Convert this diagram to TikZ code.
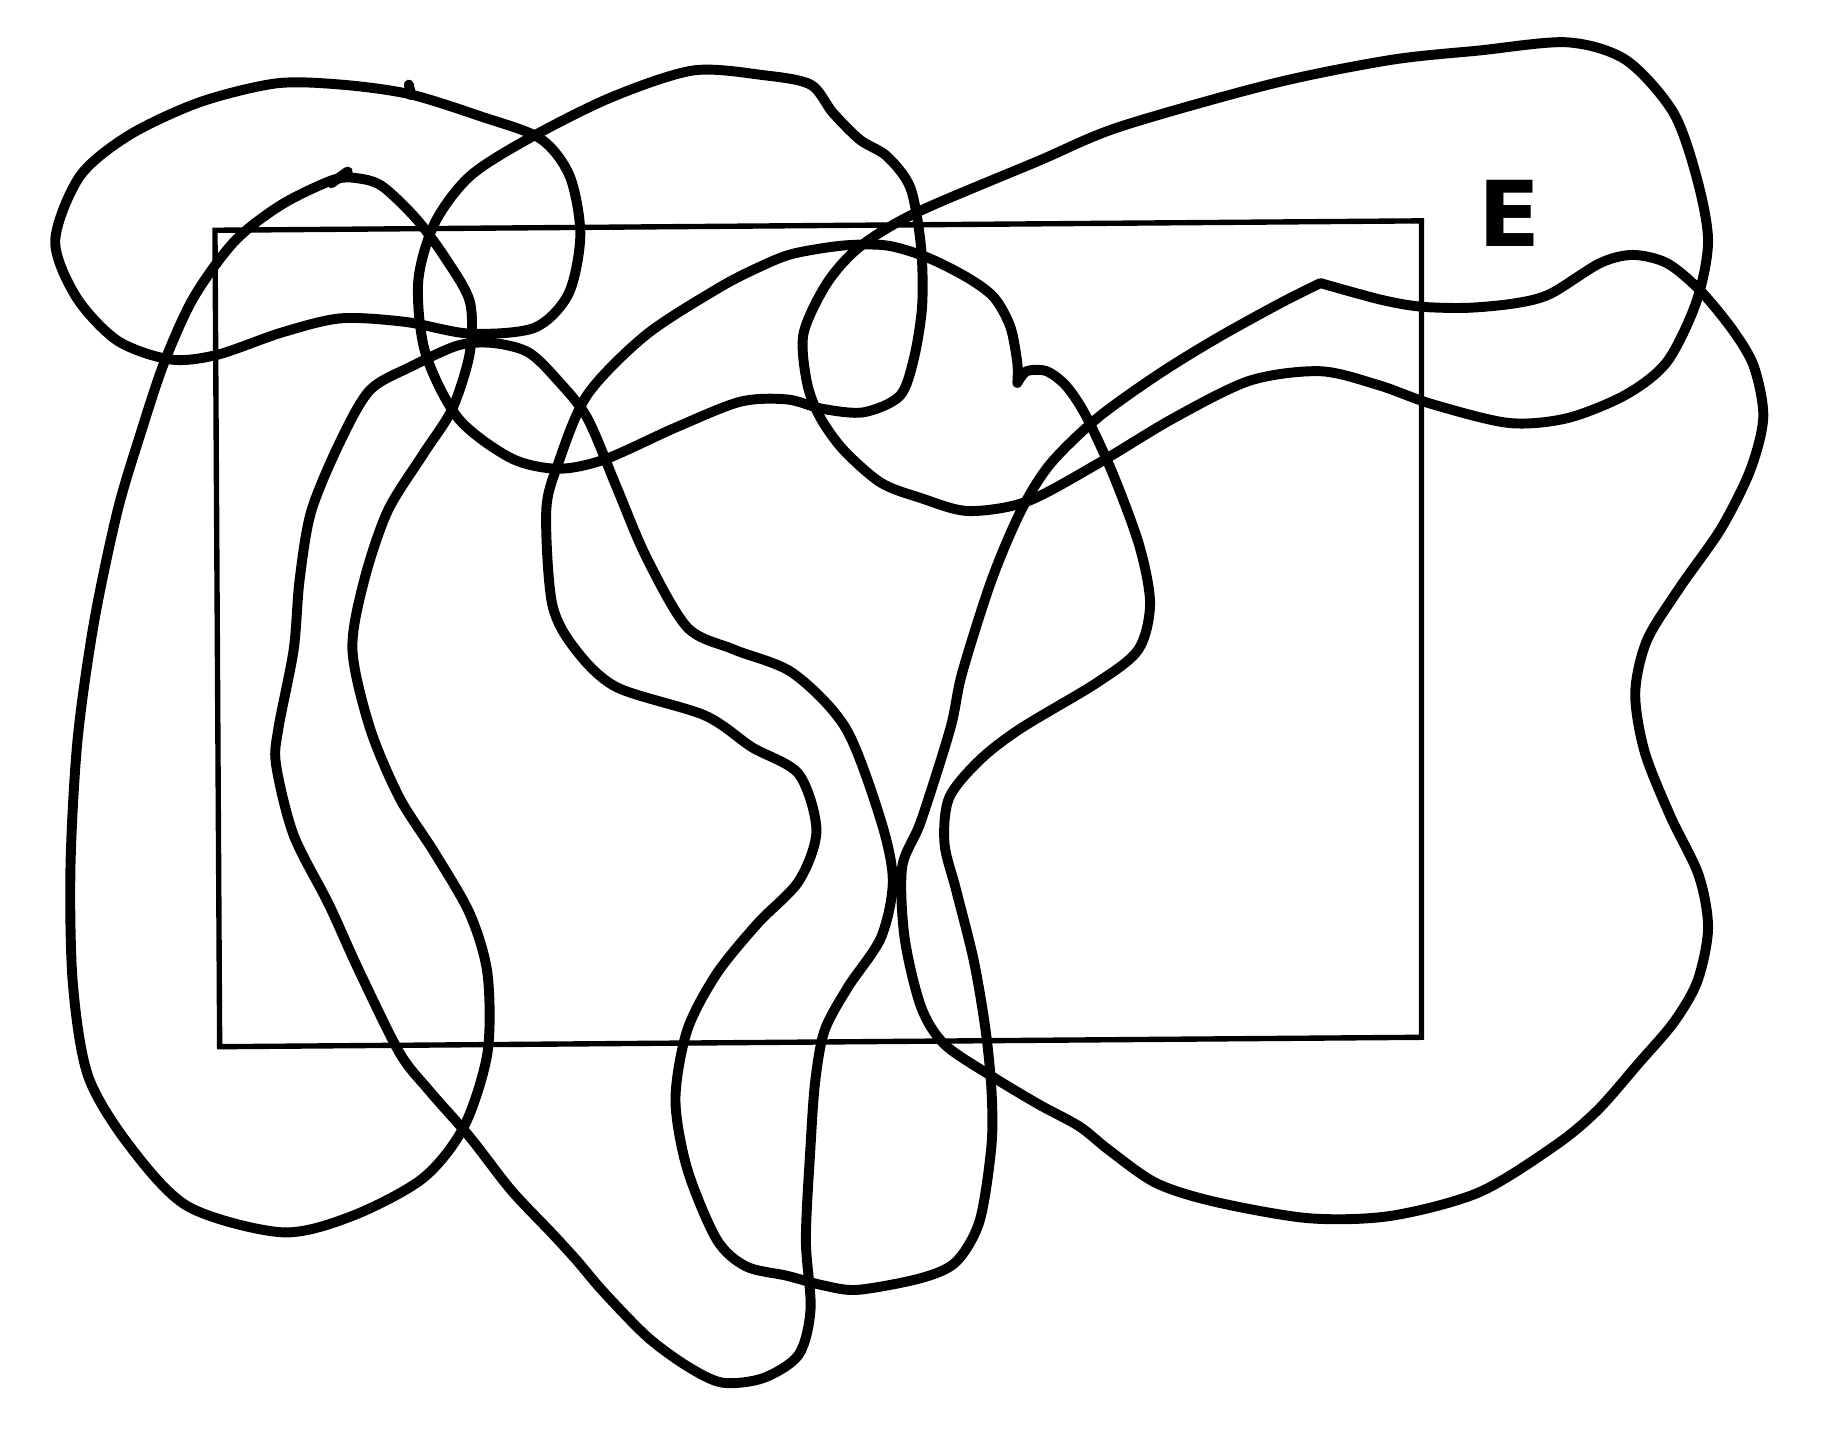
\documentclass[tikz,border=0pt]{standalone}
\usepackage{fontspec}
\usepackage{xcolor}
\usepackage{tikz}
\newfontfamily\labelfont{DejaVu Sans}

\tikzset{
  curve/.style={line width=2.4pt, line cap=round, line join=round},
  frame/.style={line width=1.3pt, line join=miter}
}

\begin{document}
\begin{tikzpicture}[x=0.01cm, y=-0.01cm]
\useasboundingbox (0,0) rectangle (1568,1239);

\coordinate (tl) at (183,196);
\coordinate (tr) at (1210,188);
\coordinate (br) at (1210,883);
\coordinate (bl) at (187,891);
\draw[frame] (tl) -- (tr) -- (br) -- (bl) -- cycle;

\node[font=\labelfont\bfseries\fontsize{22}{22}\selectfont, inner sep=0pt] (E) at (1285,182) {E};

\draw[curve] plot[smooth cycle] coordinates {(47,205) (68,150) (110,115) (170,87) (235,71) (290,72) (348,80) (409,99) (460,118) (485,150) (494,200) (484,250) (455,279) (400,284) (345,274) (290,271) (240,283) (185,302) (145,306) (100,290) (65,253)};
\draw[curve] (350,81) -- (348,72);

\draw[curve] plot[smooth cycle] coordinates {(306,152) (326,159) (355,187) (380,221) (400,257) (400,300) (385,348) (360,387) (330,435) (310,494) (300,553) (315,620) (340,679) (370,726) (400,778) (415,829) (415,896) (395,959) (360,1003) (300,1035) (240,1049) (160,1027) (110,975) (75,916) (62,837) (60,738) (66,630) (80,530) (100,435) (120,368) (140,308) (165,253) (200,205) (240,174) (284,153)};
\draw[curve] (282,156) -- (296,146);

\draw[curve] plot[smooth cycle] coordinates {(420,292) (450,300) (475,324) (500,356) (525,415) (550,474) (585,534) (625,553) (675,573) (720,620) (750,699) (760,750) (750,798) (722,840) (702,877) (694,920) (690,975) (686,1055) (690,1114) (680,1153) (650,1173) (615,1177) (585,1163) (551,1138) (514,1100) (491,1073) (470,1050) (435,1013) (400,968) (365,928) (340,896) (305,825) (280,770) (250,711) (235,651) (237,620) (250,553) (255,494) (265,435) (290,375) (315,332) (350,312) (390,294)};

\draw[curve] plot[smooth cycle] coordinates {(370,190) (400,150) (450,118) (520,83) (590,60) (650,64) (690,72) (709,96) (732,119) (755,133) (775,160) (784,210) (785,260) (778,305) (766,337) (735,351) (700,348) (670,340) (630,342) (575,364) (515,391) (475,399) (435,390) (390,356) (362,300) (356,240)};

\draw[curve] plot[smooth] coordinates {(866,326) (874,316) (891,316) (908,329) (925,355) (948,405) (970,465) (979,514) (969,553) (934,581) (869,620) (834,647) (808,679) (804,718) (814,758) (829,818) (839,877) (844,928) (844,975) (834,1039) (814,1074) (784,1088) (730,1098) (700,1094) (670,1086) (635,1078) (610,1055) (585,995) (575,936) (585,877) (610,829) (645,786) (680,750) (695,707) (680,659) (640,636) (600,609) (525,585) (490,553) (470,514) (465,435) (475,395) (500,336) (550,285) (612,245) (647,227) (675,216) (718,209) (755,209) (789,219) (823,236) (846,253) (860,278) (866,309) (866,326)};

\draw[curve] plot[smooth cycle] coordinates {(780,181) (732,210) (704,241) (684,284) (687,326) (698,355) (718,383) (750,411) (784,424) (824,435) (874,427) (934,395) (999,356) (1064,324) (1124,316) (1174,328) (1219,344) (1284,360) (1334,356) (1384,336) (1419,308) (1444,257) (1454,205) (1444,150) (1424,95) (1384,51) (1334,36) (1259,43) (1184,51) (1084,71) (953,108) (884,137)};

\draw[curve] plot[smooth] coordinates {(1124,241) (1175,255) (1209,261) (1250,262) (1291,258) (1320,250) (1362,224) (1390,217) (1419,224) (1447,247) (1475,281) (1493,312) (1501,355) (1490,400) (1465,450) (1430,500) (1402,545) (1392,590) (1400,640) (1422,695) (1446,745) (1454,790) (1445,835) (1425,870) (1395,905) (1360,945) (1324,975) (1259,1015) (1184,1035) (1114,1037) (1034,1023) (984,1007) (944,979) (919,959) (884,940) (844,916) (804,889) (784,857) (770,798) (768,738) (784,699) (809,620) (819,573) (844,494) (869,435) (894,395) (934,356) (984,320) (1034,289) (1090,258) (1124,241)};
\end{tikzpicture}
\end{document}
